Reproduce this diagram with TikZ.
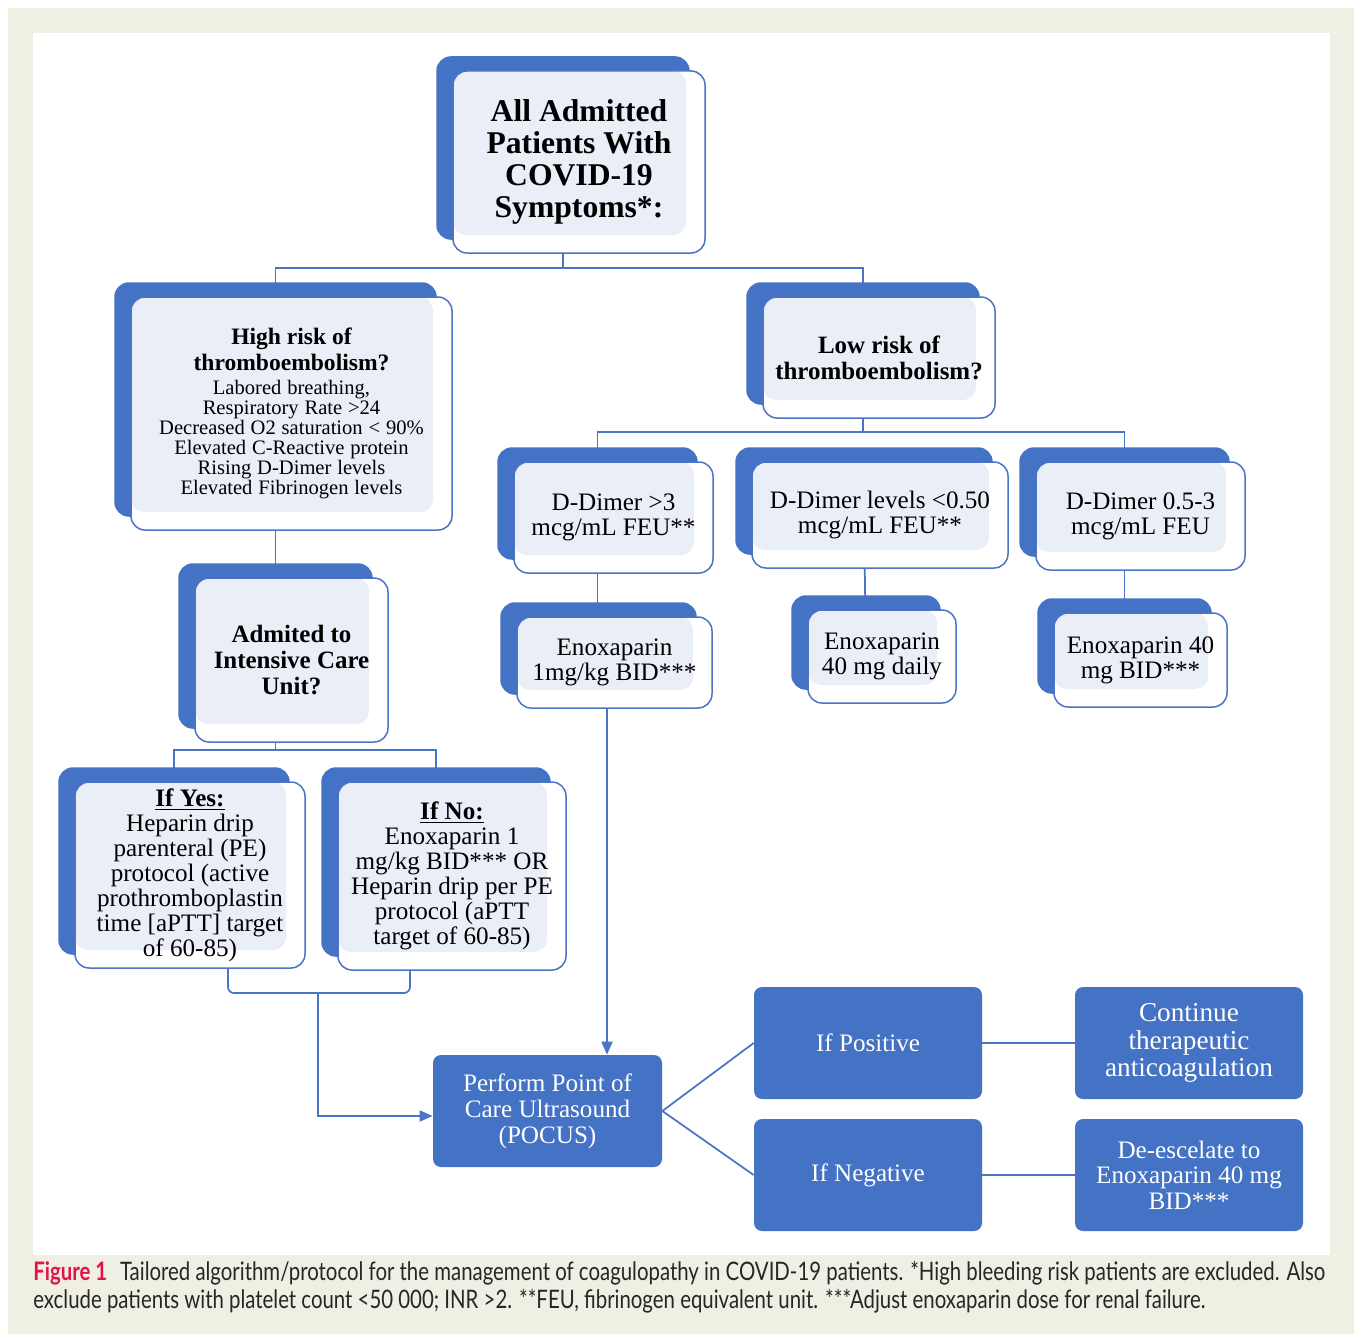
\documentclass[tikz,border=0pt]{standalone}
\usepackage{fontspec}
\setmainfont{Liberation Serif}
\newfontfamily\capfont[FakeStretch=0.80]{Lato}
\usetikzlibrary{shadows,backgrounds,arrows.meta}
\pgfdeclarelayer{backdrop}
\pgfsetlayers{backdrop,background,main}
\definecolor{boxblue}{HTML}{4472C4}
\definecolor{softblue}{HTML}{E9EEF7}
\definecolor{lineblue}{HTML}{4B74C7}
\definecolor{pagebeige}{HTML}{EFEFE4}
\definecolor{figred}{HTML}{E3134C}
\newcommand{\px}{0.2mm}
\tikzset{
  stackbox/.style={draw=lineblue, line width=0.3mm, fill=white, rounded corners=2.8mm,
    copy shadow={shadow xshift=-3.2mm, shadow yshift=2.8mm, fill=boxblue, draw=boxblue},
    path picture={\fill[softblue, rounded corners=2.6mm]
      (path picture bounding box.north west) rectangle
      ([xshift=-3.8mm, yshift=3.6mm]path picture bounding box.south east);},
    align=center, inner sep=0pt, text=black},
  plaintext/.style={font=\fontsize{14.3}{14.2}\selectfont},
  headtext/.style={font=\bfseries\fontsize{14.2}{14.8}\selectfont},
  solidbox/.style={fill=boxblue, rounded corners=1.6mm, text=white, align=center,
    minimum width=228*\px, minimum height=112*\px, inner sep=0pt,
    font=\fontsize{14.3}{14.8}\selectfont},
  link/.style={lineblue, line width=0.35mm},
  tolink/.style={link, -{Triangle[length=2.6mm, width=2.2mm]}}
}
\begin{document}
\begin{tikzpicture}[x=0.2mm, y=-0.2mm]
  \useasboundingbox (0,0) rectangle (1354,1334);
  \begin{pgfonlayer}{backdrop}
    \fill[white] (0,0) rectangle (1354,1334);
    \fill[pagebeige] (8,8) rectangle (1354,1334);
    \fill[white] (33,33) rectangle (1330,1255);
  \end{pgfonlayer}

  % question and dose boxes
  \node[stackbox, minimum width=252*\px, minimum height=182*\px,
    font=\bfseries\fontsize{18}{18.2}\selectfont] (all) at (579,162)
    {All Admitted\\Patients With\\COVID-19\\Symptoms*:};
  \node[stackbox, minimum width=321*\px, minimum height=233*\px, text width=310*\px] (high) at (291.5,413.5)
    {{\bfseries\fontsize{13.4}{14.8}\selectfont High risk of\\thromboembolism?\par}\vskip2pt
     {\fontsize{11.7}{11.4}\selectfont Labored breathing,\\Respiratory Rate >24\\Decreased O2 saturation < 90\%\\
      Elevated C-Reactive protein\\Rising D-Dimer levels\\Elevated Fibrinogen levels\par}};
  \node[stackbox, headtext, minimum width=232*\px, minimum height=121*\px] (low) at (879,357.5)
    {Low risk of\\thromboembolism?};
  \node[stackbox, plaintext, minimum width=199*\px, minimum height=111*\px] (dd3) at (613.5,517.5)
    {D-Dimer >3\\mcg/mL FEU**};
  \node[stackbox, plaintext, minimum width=256*\px, minimum height=106*\px] (ddlow) at (880,515)
    {D-Dimer levels <0.50\\mcg/mL FEU**};
  \node[stackbox, plaintext, minimum width=209*\px, minimum height=108*\px] (ddmid) at (1140.5,516)
    {D-Dimer 0.5-3\\mcg/mL FEU};
  \node[stackbox, plaintext, minimum width=195*\px, minimum height=91*\px] (enoxhi) at (614.5,662.5)
    {Enoxaparin\\1mg/kg BID***};
  \node[stackbox, plaintext, minimum width=148*\px, minimum height=93*\px] (enoxday) at (882,656.5)
    {Enoxaparin\\40 mg daily};
  \node[stackbox, plaintext, minimum width=173*\px, minimum height=94*\px] (enoxbid) at (1140.5,660)
    {Enoxaparin 40\\mg BID***};
  \node[stackbox, headtext, minimum width=193*\px, minimum height=164*\px] (icu) at (291.5,660)
    {Admited to\\Intensive Care\\Unit?};
  \node[stackbox, plaintext, minimum width=230*\px, minimum height=186*\px] (yes) at (190,875)
    {\underline{\textbf{If Yes:}}\\Heparin drip\\parenteral (PE)\\protocol (active\\prothromboplastin\\time [aPTT] target\\of 60-85)};
  \node[stackbox, plaintext, minimum width=228*\px, minimum height=188*\px] (no) at (452,876)
    {\underline{\textbf{If No:}}\\Enoxaparin 1\\mg/kg BID*** OR\\Heparin drip per PE\\protocol (aPTT\\target of 60-85)};

  % ultrasound step
  \node[solidbox, minimum width=229*\px] (pocus) at (547.5,1111) {Perform Point of\\Care Ultrasound\\(POCUS)};
  \node[solidbox] (pos) at (868,1043) {If Positive};
  \node[solidbox] (neg) at (868,1175) {If Negative};
  \node[solidbox, font=\fontsize{15.5}{15.6}\selectfont] (cont) at (1189,1043)
    {Continue\\therapeutic\\anticoagulation};
  \node[solidbox, font=\fontsize{14.3}{14.5}\selectfont] (desc) at (1189,1175)
    {De-escelate to\\Enoxaparin 40 mg\\BID***};

  % caption
  \node[anchor=north west, align=left, inner sep=0pt, text=black!85,
    font=\capfont\fontsize{14.5}{16}\selectfont] (caption) at (33,1261)
    {{\color{figred}\bfseries Figure 1}\enspace Tailored algorithm/protocol for the management of coagulopathy in COVID-19 patients. *High bleeding risk patients are excluded. Also\\
     exclude patients with platelet count <50~000; INR >2. **FEU, fibrinogen equivalent unit. ***Adjust enoxaparin dose for renal failure.};

  % connectors
  \foreach \n in {all,high,low,dd3,ddlow,ddmid,enoxhi,enoxday,enoxbid,icu,yes,no}
    \coordinate (\n-back) at ([xshift=-3.2mm]\n.center);
  \coordinate (fork-top) at (562,268);
  \coordinate (fork-low) at (863,432);
  \coordinate (fork-icu) at (275,750);
  \coordinate (merge) at (318,993);
  \coordinate (yes-out) at ([xshift=38*\px]yes.south);
  \coordinate (no-out) at ([xshift=-42*\px]no.south);
  \coordinate (enoxhi-out) at ([xshift=-1.5mm]enoxhi.south);
  \begin{scope}[on background layer]
    \draw[link] (all-back) -- (all-back |- fork-top);
    \draw[link] (high-back) |- (fork-top) -| (low-back);
    \draw[link] (high-back) -- (icu-back);
    \draw[link] (icu-back) -- (icu-back |- fork-icu);
    \draw[link] (yes-back) |- (fork-icu) -| (no-back);
    \draw[link] (low-back) -- (low-back |- fork-low);
    \draw[link] (dd3-back) |- (fork-low) -| (ddmid-back);
    \draw[link] (ddlow-back) -- (enoxday-back);
    \draw[link] (dd3-back) -- (dd3-back |- enoxhi-back);
    \draw[link] (ddmid-back) -- (enoxbid-back);
    \draw[tolink] (enoxhi-out) -- (enoxhi-out |- pocus.north);
    \draw[link, rounded corners=1.2mm] (yes-out) |- (merge) -| (no-out);
    \draw[tolink] (merge) |- ([yshift=-1mm]pocus.west);
    \draw[link] (pocus.east) -- (pos.west);
    \draw[link] (pocus.east) -- (neg.west);
    \draw[link] (pos.east) -- (cont.west);
    \draw[link] (neg.east) -- (desc.west);
  \end{scope}
\end{tikzpicture}
\end{document}
